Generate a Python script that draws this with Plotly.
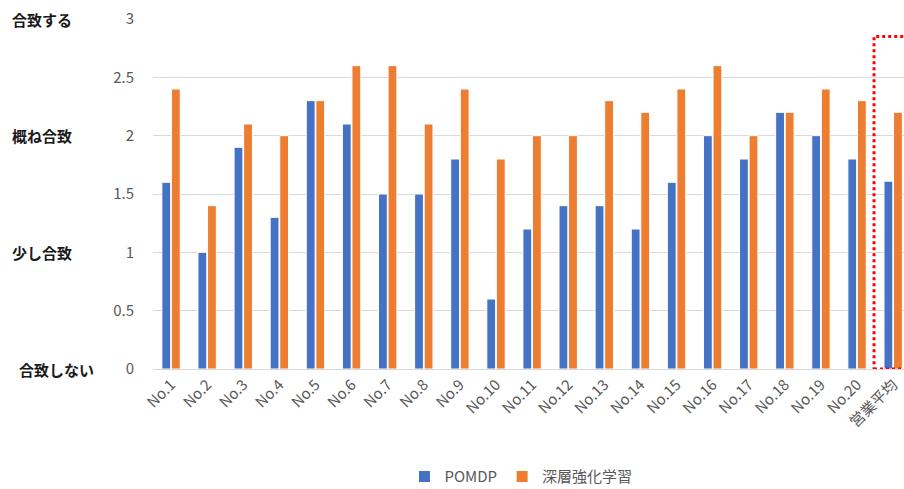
import plotly.graph_objects as go

categories = ["No.1","No.2","No.3","No.4","No.5","No.6","No.7","No.8","No.9","No.10",
              "No.11","No.12","No.13","No.14","No.15","No.16","No.17","No.18","No.19","No.20","営業平均"]
pomdp = [1.6,1.0,1.9,1.3,2.3,2.1,1.5,1.5,1.8,0.6,1.2,1.4,1.4,1.2,1.6,2.0,1.8,2.2,2.0,1.8,1.61]
drl = [2.4,1.4,2.1,2.0,2.3,2.6,2.6,2.1,2.4,1.8,2.0,2.0,2.3,2.2,2.4,2.6,2.0,2.2,2.4,2.3,2.2]
yticks = [0,0.5,1,1.5,2,2.5,3]
ylabels_text = ["合致しない","少し合致","概ね合致","合致する"]
ylabels_val = [0,1,2,3]

FONT = "Noto Sans CJK JP, Noto Sans, sans-serif"
idx = list(range(len(categories)))

fig = go.Figure()
fig.add_trace(go.Bar(x=idx, y=pomdp, name="POMDP", marker=dict(color="#4472C4", line=dict(color="white", width=1))))
fig.add_trace(go.Bar(x=idx, y=drl, name="深層強化学習", marker=dict(color="#ED7D31", line=dict(color="white", width=1))))

fig.update_layout(
    width=904, height=489,
    margin=dict(l=153, r=0, t=19, b=120),
    paper_bgcolor="white", plot_bgcolor="white",
    barmode="group", bargap=0.47, bargroupgap=0.08,
    font=dict(family=FONT, color="#595959", size=14),
    showlegend=True,
    legend=dict(orientation="h", x=0.49, xanchor="center", yref="container", y=0.025, yanchor="middle",
                font=dict(size=15, color="#595959"), itemwidth=30),
    xaxis=dict(tickmode="array", tickvals=idx, ticktext=categories, tickangle=-45,
               range=[-0.5, 20.3], showgrid=False, zeroline=False, automargin=False,
               showline=True, linecolor="#D9D9D9", linewidth=1,
               tickfont=dict(size=15, color="#595959")),
    yaxis=dict(range=[0, 3], tickvals=yticks, ticktext=[str(t) for t in yticks],
               showgrid=True, gridcolor="#D9D9D9", gridwidth=1, zeroline=False, automargin=False,
               tickfont=dict(size=15, color="#595959"), ticklabelstandoff=18),
)

for txt, v in zip(ylabels_text, ylabels_val):
    fig.add_annotation(x=-0.19 if v != 0 else -0.181, xref="paper", y=v, yref="y",
                       text="<b>"+txt+"</b>", showarrow=False, xanchor="left", yanchor="middle",
                       font=dict(size=15, color="#1a1a1a", family=FONT))

fig.add_shape(type="rect", xref="x", yref="y", x0=19.47, x1=22, y0=0, y1=2.85,
              line=dict(color="#FF0000", width=3, dash="dot"), layer="above")

fig.write_html("out.html")
